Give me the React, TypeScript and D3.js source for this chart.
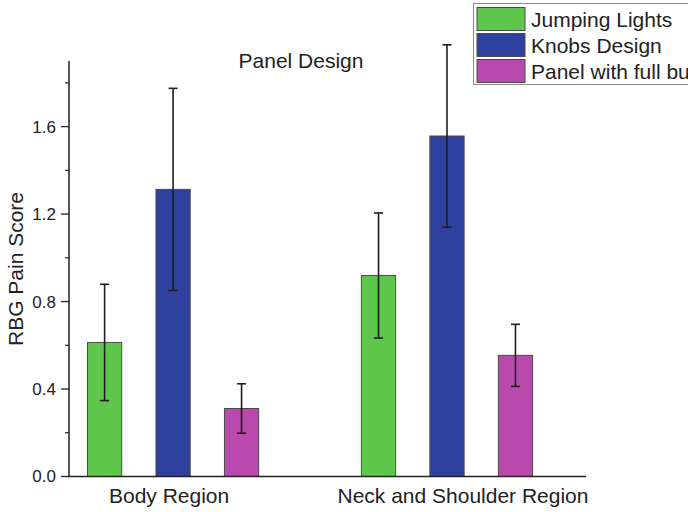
import React from "react";
import * as d3 from "d3";

// Regions on the x axis
const categories = ["Body Region", "Neck and Shoulder Region"];
// Panel designs (legend order)
const series = ["Jumping Lights", "Knobs Design", "Panel with full buttons"];
const seriesColors = ["#5fc64c", "#2f419f", "#b949ad"];
// Mean RBG pain score per series, one value per region
const jumpingLights = [0.613, 0.919];
const knobsDesign = [1.313, 1.557];
const panelFullButtons = [0.311, 0.554];
// Error (± half-width) per series
const jumpingLightsErr = [0.266, 0.286];
const knobsDesignErr = [0.462, 0.417];
const panelFullButtonsErr = [0.113, 0.142];
// Y axis ticks
const majorTicks = [0, 0.4, 0.8, 1.2, 1.6];
const minorTicks = [0.2, 0.6, 1.0, 1.4, 1.8];

const W = 688;
const H = 512;
const FONT = "'Liberation Sans', Arial, Helvetica, sans-serif";
const TEXT = "#222";

export default function App() {
  const values = [jumpingLights, knobsDesign, panelFullButtons];
  const errors = [jumpingLightsErr, knobsDesignErr, panelFullButtonsErr];

  const axisLeft = 69;
  const axisRight = 586;
  const axisBottom = 476.5;
  const axisTop = 61;

  const y = d3.scaleLinear().domain([0, 1.9]).range([axisBottom, axisTop]);
  // Slot-based x scale: each region holds its series in consecutive slots,
  // with one empty slot between regions.
  const slotsPerGroup = series.length + 1;
  const x = d3
    .scaleLinear()
    .domain([-0.52, 7.03])
    .range([axisLeft, axisRight]);
  const slotW = x(1) - x(0);
  const barW = slotW * 0.5;

  // Category label horizontal nudges (text alignment under each group)
  const labelDx = [-4, 16];

  const bars: React.ReactNode[] = [];
  const errs: React.ReactNode[] = [];
  categories.forEach((_, gi) => {
    series.forEach((_, si) => {
      const v = values[si][gi];
      const e = errors[si][gi];
      const cx = x(gi * slotsPerGroup + si);
      bars.push(
        <rect
          key={`b-${gi}-${si}`}
          x={cx - barW / 2}
          y={y(v)}
          width={barW}
          height={y(0) - y(v)}
          fill={seriesColors[si]}
          stroke="#4a4a4a"
          strokeWidth={1}
        />
      );
      const yHi = y(v + e);
      const yLo = y(v - e);
      const cap = 4.5;
      errs.push(
        <g key={`e-${gi}-${si}`} stroke="#1e1e1e" strokeWidth={1.6}>
          <line x1={cx} x2={cx} y1={yHi} y2={yLo} />
          <line x1={cx - cap} x2={cx + cap} y1={yHi} y2={yHi} />
          <line x1={cx - cap} x2={cx + cap} y1={yLo} y2={yLo} />
        </g>
      );
    });
  });

  const legendX = 473.5;
  const legendY = 3.5;
  const rowH = 26;

  return (
    <svg
      width={W}
      height={H}
      style={{ position: "absolute", left: 0, top: 0, background: "#fff" }}
      fontFamily={FONT}
    >
      <rect x={0} y={0} width={W} height={H} fill="#fff" />

      {bars}
      {errs}

      {/* Y axis */}
      <line x1={axisLeft} x2={axisLeft} y1={axisTop} y2={axisBottom} stroke={TEXT} strokeWidth={1.5} />
      {majorTicks.map((t) => (
        <g key={`mt-${t}`}>
          <line x1={axisLeft - 8} x2={axisLeft} y1={y(t)} y2={y(t)} stroke={TEXT} strokeWidth={1.3} />
          <text
            x={axisLeft - 13}
            y={y(t)}
            dy="0.35em"
            textAnchor="end"
            fontSize={17}
            fill={TEXT}
          >
            {d3.format(".1f")(t)}
          </text>
        </g>
      ))}
      {minorTicks.map((t) => (
        <line key={`mn-${t}`} x1={axisLeft - 4} x2={axisLeft} y1={y(t)} y2={y(t)} stroke={TEXT} strokeWidth={1.2} />
      ))}

      {/* X axis */}
      <line x1={axisLeft - 1} x2={axisRight} y1={axisBottom} y2={axisBottom} stroke={TEXT} strokeWidth={1.5} />
      {categories.map((c, gi) => (
        <text
          key={c}
          x={x(gi * slotsPerGroup + (series.length - 1) / 2) + labelDx[gi]}
          y={503}
          textAnchor="middle"
          fontSize={21}
          fill={TEXT}
        >
          {c}
        </text>
      ))}

      {/* Axis title */}
      <text
        transform={`translate(23,269) rotate(-90)`}
        textAnchor="middle"
        fontSize={21}
        fill={TEXT}
      >
        RBG Pain Score
      </text>

      {/* Chart title */}
      <text x={301} y={68} textAnchor="middle" fontSize={21} fill={TEXT}>
        Panel Design
      </text>

      {/* Legend */}
      <g>
        <rect
          x={legendX}
          y={legendY}
          width={260}
          height={81}
          fill="#fff"
          stroke="#8a8a8a"
          strokeWidth={1}
        />
        {series.map((s, si) => (
          <g key={s}>
            <rect
              x={legendX + 3.5}
              y={legendY + 4 + si * rowH}
              width={48}
              height={23}
              fill={seriesColors[si]}
              stroke="#4a4a4a"
              strokeWidth={1}
            />
            <text
              x={legendX + 57.5}
              y={legendY + 23 + si * rowH}
              fontSize={21}
              fill={TEXT}
            >
              {s}
            </text>
          </g>
        ))}
      </g>
    </svg>
  );
}
